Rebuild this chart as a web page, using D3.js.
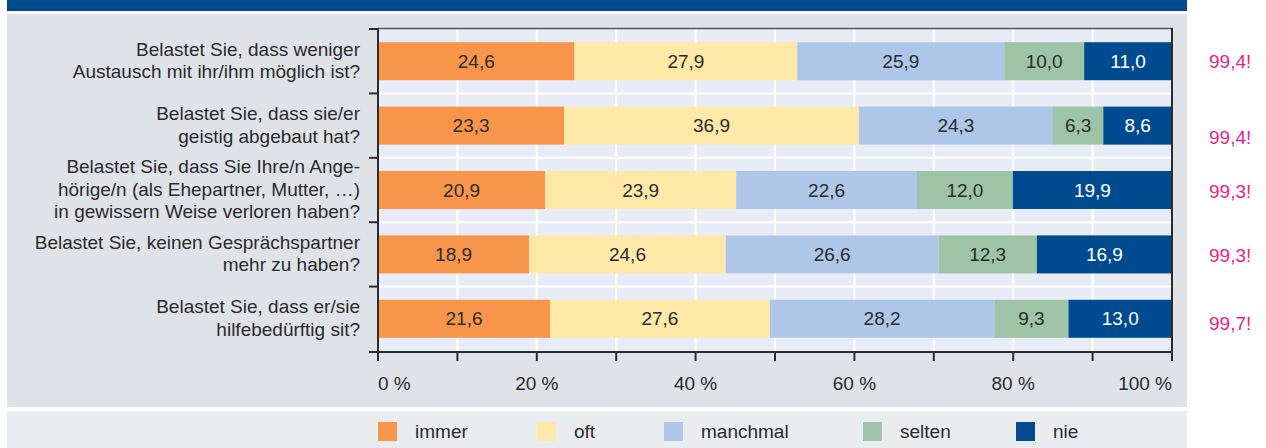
<!DOCTYPE html>
<html>
<head>
<meta charset="utf-8">
<script src="https://cdn.jsdelivr.net/npm/d3@7"></script>
<style>
  html, body { margin: 0; padding: 0; background: #ffffff; }
  svg { display: block; font-family: "Liberation Sans", Arial, Helvetica, sans-serif; }
</style>
</head>
<body>
<svg id="chart" width="1266" height="448"></svg>
<script>
// ---- data ----
const questions = [
  ["Belastet Sie, dass weniger", "Austausch mit ihr/ihm möglich ist?"],
  ["Belastet Sie, dass sie/er", "geistig abgebaut hat?"],
  ["Belastet Sie, dass Sie Ihre/n Ange-", "hörige/n (als Ehepartner, Mutter, …)", "in gewissern Weise verloren haben?"],
  ["Belastet Sie, keinen Gesprächspartner", "mehr zu haben?"],
  ["Belastet Sie, dass er/sie", "hilfebedürftig sit?"]
];
const seriesNames = ["immer", "oft", "manchmal", "selten", "nie"];
const immer    = [24.6, 23.3, 20.9, 18.9, 21.6];
const oft      = [27.9, 36.9, 23.9, 24.6, 27.6];
const manchmal = [25.9, 24.3, 22.6, 26.6, 28.2];
const selten   = [10.0,  6.3, 12.0, 12.3,  9.3];
const nie      = [11.0,  8.6, 19.9, 16.9, 13.0];
const totals   = ["99,4!", "99,4!", "99,3!", "99,3!", "99,7!"];
const xTicks   = [0, 20, 40, 60, 80, 100];
const xTickLabels = ["0 %", "20 %", "40 %", "60 %", "80 %", "100 %"];

// ---- style ----
const colors = ["#f7964a", "#fee9a8", "#aec6e8", "#9fc3a6", "#004b8f"];
const labelColors = ["#2b2b2b", "#2b2b2b", "#2b2b2b", "#2b2b2b", "#ffffff"];
const totalNudge = [0, 12, 1, 1, 5];   // vertical nudge of the pink check-sum labels (px)
const textColor = "#2b2b2b";
const fontSize = 19;

const svg = d3.select("#chart");

// background panels
svg.append("rect").attr("x", 7).attr("y", 0).attr("width", 1180).attr("height", 11).attr("fill", "#004b8f");
svg.append("rect").attr("x", 7).attr("y", 14).attr("width", 1180).attr("height", 393).attr("fill", "#dfe3e8");
svg.append("rect").attr("x", 7).attr("y", 411).attr("width", 1180).attr("height", 37).attr("fill", "#e9edf0");

const plot = { left: 378, right: 1172, top: 29, bottom: 352 };

const x = d3.scaleLinear().domain([0, 100]).range([plot.left, plot.right]);
const y = d3.scaleBand().domain(d3.range(questions.length)).range([plot.top, plot.bottom - 1])
  .paddingInner(0.41).paddingOuter(0.205);
const yOuter = d3.scaleBand().domain(d3.range(questions.length)).range([plot.top, plot.bottom - 1]);

// plot background
svg.append("rect").attr("x", plot.left).attr("y", plot.top)
  .attr("width", plot.right - plot.left).attr("height", plot.bottom - plot.top).attr("fill", "#e8ecf6");

// grid lines
const g = svg.append("g");
g.selectAll("line.vg").data(d3.range(10, 100, 10)).join("line")
  .attr("x1", d => x(d)).attr("x2", d => x(d)).attr("y1", plot.top).attr("y2", plot.bottom)
  .attr("stroke", "#ffffff").attr("stroke-width", 2);
g.selectAll("line.hg").data(d3.range(1, questions.length)).join("line")
  .attr("x1", plot.left).attr("x2", plot.right)
  .attr("y1", d => yOuter(d)).attr("y2", d => yOuter(d))
  .attr("stroke", "#ffffff").attr("stroke-width", 2);

// stacked data (normalised to 100 %)
const series = [immer, oft, manchmal, selten, nie];
const rows = questions.map((q, i) => {
  const vals = series.map(s => s[i]);
  const sum = d3.sum(vals);
  let acc = 0;
  return vals.map((v, k) => {
    const seg = { row: i, k, v, x0: acc / sum * 100, x1: (acc + v) / sum * 100 };
    acc += v;
    return seg;
  });
});
const segs = rows.flat();

const bars = svg.append("g");
bars.selectAll("rect").data(segs).join("rect")
  .attr("x", d => x(d.x0)).attr("width", d => x(d.x1) - x(d.x0))
  .attr("y", d => y(d.row)).attr("height", y.bandwidth())
  .attr("fill", d => colors[d.k]);

bars.selectAll("text").data(segs).join("text")
  .attr("x", d => (x(d.x0) + x(d.x1)) / 2)
  .attr("y", d => y(d.row) + y.bandwidth() / 2)
  .attr("dy", "0.35em")
  .attr("text-anchor", "middle")
  .attr("font-size", fontSize)
  .attr("fill", d => labelColors[d.k])
  .text(d => d3.format(".1f")(d.v).replace(".", ","));

// frame: top & right
svg.append("line").attr("x1", plot.left).attr("x2", plot.right + 1).attr("y1", plot.top - 0.5).attr("y2", plot.top - 0.5)
  .attr("stroke", "#555", "").attr("stroke-width", 1.5);
svg.append("line").attr("x1", plot.right).attr("x2", plot.right).attr("y1", plot.top - 1).attr("y2", plot.bottom)
  .attr("stroke", "#2b2b2b").attr("stroke-width", 2);

// left axis with ticks at band boundaries
const axisColor = "#2b2b2b";
svg.append("line").attr("x1", plot.left).attr("x2", plot.left).attr("y1", plot.top - 1).attr("y2", plot.bottom + 1)
  .attr("stroke", axisColor).attr("stroke-width", 2);
svg.selectAll("line.lt").data(d3.range(0, questions.length)).join("line")
  .attr("x1", plot.left - 9).attr("x2", plot.left)
  .attr("y1", d => yOuter(d)).attr("y2", d => yOuter(d))
  .attr("stroke", axisColor).attr("stroke-width", 2);

// bottom axis
svg.append("line").attr("x1", plot.left - 9).attr("x2", plot.right + 1).attr("y1", plot.bottom).attr("y2", plot.bottom)
  .attr("stroke", axisColor).attr("stroke-width", 2);
svg.selectAll("line.bt").data(d3.range(0, 101, 10)).join("line")
  .attr("x1", d => x(d)).attr("x2", d => x(d)).attr("y1", plot.bottom).attr("y2", plot.bottom + 9)
  .attr("stroke", axisColor).attr("stroke-width", 2);
svg.selectAll("text.xt").data(xTicks).join("text")
  .attr("x", d => x(d)).attr("y", 383).attr("dy", "0.35em")
  .attr("text-anchor", (d, i) => i === 0 ? "start" : (i === xTicks.length - 1 ? "end" : "middle"))
  .attr("font-size", fontSize).attr("fill", textColor)
  .text((d, i) => xTickLabels[i]);

// category labels
const lineH = 22.5;
questions.forEach((lines, i) => {
  const cy = yOuter(i) + yOuter.bandwidth() / 2 - 1;
  const t = svg.append("text").attr("text-anchor", "end").attr("font-size", fontSize).attr("fill", textColor);
  lines.forEach((ln, j) => {
    t.append("tspan").attr("x", 360)
      .attr("y", cy + (j - (lines.length - 1) / 2) * lineH)
      .attr("dy", "0.35em").text(ln);
  });
});

// check-sum labels
svg.selectAll("text.tot").data(totals).join("text")
  .attr("x", 1209).attr("y", (d, i) => y(i) + y.bandwidth() / 2 + totalNudge[i])
  .attr("dy", "0.35em").attr("font-size", fontSize).attr("fill", "#ec1c8c")
  .text(d => d);

// legend
const legX = [378, 537, 664, 863, 1016];
const leg = svg.append("g");
seriesNames.forEach((n, i) => {
  leg.append("rect").attr("x", legX[i]).attr("y", 422).attr("width", 19).attr("height", 19).attr("fill", colors[i]);
  leg.append("text").attr("x", legX[i] + 37).attr("y", 431.5).attr("dy", "0.35em")
    .attr("font-size", fontSize).attr("fill", textColor).text(n);
});
</script>
</body>
</html>
